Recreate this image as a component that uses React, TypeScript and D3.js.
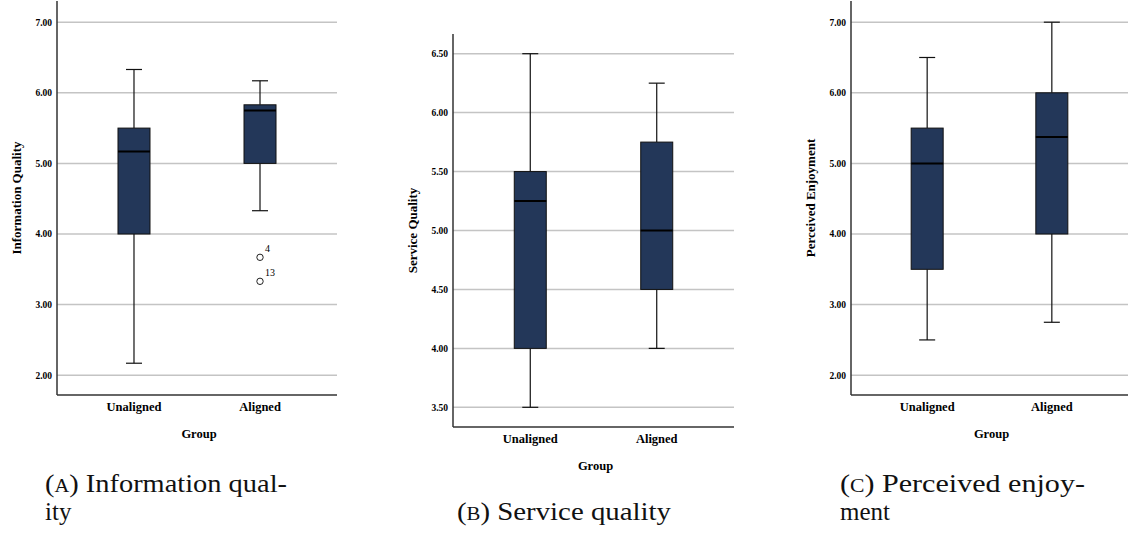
import React, { useEffect, useRef } from "react";
import * as d3 from "d3";

// groups on the x axis
const groups = ["Unaligned", "Aligned"];

// box stats per group: [min, q1, median, q3, max]
const infoQualityStats = [
  [2.17, 4.0, 5.17, 5.5, 6.33],
  [4.33, 5.0, 5.75, 5.83, 6.17],
];
const infoQualityOutliers = [
  { group: "Aligned", value: 3.67, id: "4" },
  { group: "Aligned", value: 3.33, id: "13" },
];
const serviceQualityStats = [
  [3.5, 4.0, 5.25, 5.5, 6.5],
  [4.0, 4.5, 5.0, 5.75, 6.25],
];
const enjoymentStats = [
  [2.5, 3.5, 5.0, 5.5, 6.5],
  [2.75, 4.0, 5.375, 6.0, 7.0],
];

const infoTicks = [2, 3, 4, 5, 6, 7];
const serviceTicks = [3.5, 4, 4.5, 5, 5.5, 6, 6.5];
const enjoymentTicks = [2, 3, 4, 5, 6, 7];

const BOX_FILL = "#233759";
const SERIF = "Liberation Serif, DejaVu Serif, serif";

type Panel = {
  yLabel: string;
  stats: number[][];
  outliers: { group: string; value: number; id: string }[];
  ticks: number[];
  domain: [number, number];
  left: number;
  right: number;
  top: number;
  bottom: number;
};

const panels: Panel[] = [
  { yLabel: "Information Quality", stats: infoQualityStats, outliers: infoQualityOutliers, ticks: infoTicks,
    domain: [1.72, 7.3], left: 57, right: 337, top: 1, bottom: 395 },
  { yLabel: "Service Quality", stats: serviceQualityStats, outliers: [], ticks: serviceTicks,
    domain: [3.333, 6.667], left: 453, right: 734, top: 34, bottom: 427 },
  { yLabel: "Perceived Enjoyment", stats: enjoymentStats, outliers: [], ticks: enjoymentTicks,
    domain: [1.72, 7.3], left: 851, right: 1128, top: 1, bottom: 395 },
];

const captions = [
  { letter: "A", lines: ["Information qual-", "ity"], x: 45, y: 492, len: 242 },
  { letter: "B", lines: ["Service quality"], x: 457, y: 520, len: 214 },
  { letter: "C", lines: ["Perceived enjoy-", "ment"], x: 840, y: 492, len: 245 },
];

export default function App() {
  const ref = useRef<SVGSVGElement>(null);

  useEffect(() => {
    const svg = d3.select(ref.current);
    svg.selectAll("*").remove();
    svg.style("font-family", SERIF);

    panels.forEach((p) => {
      const g = svg.append("g");
      const x = d3.scalePoint().domain(groups).range([p.left, p.right]).padding(0.611);
      const y = d3.scaleLinear().domain(p.domain).range([p.bottom, p.top]);
      const boxW = 32;
      const capW = 16;

      // gridlines
      g.selectAll(".grid").data(p.ticks).enter().append("line")
        .attr("x1", p.left).attr("x2", p.right)
        .attr("y1", (d) => y(d)).attr("y2", (d) => y(d))
        .attr("stroke", "#c4c4c4").attr("stroke-width", 1.5);

      // tick labels
      g.selectAll(".tick").data(p.ticks).enter().append("text")
        .attr("x", p.left - 5).attr("y", (d) => y(d)).attr("dy", "0.35em")
        .attr("text-anchor", "end").style("font-weight", "bold")
        .style("font-size", "9.5px").text((d) => d3.format(".2f")(d));

      // boxes
      p.stats.forEach((s, i) => {
        const cx = x(groups[i]) as number;
        const [mn, q1, med, q3, mx] = s;
        g.append("line").attr("x1", cx).attr("x2", cx).attr("y1", y(mx)).attr("y2", y(q3))
          .attr("stroke", "#111").attr("stroke-width", 1.2);
        g.append("line").attr("x1", cx).attr("x2", cx).attr("y1", y(q1)).attr("y2", y(mn))
          .attr("stroke", "#111").attr("stroke-width", 1.2);
        [mn, mx].forEach((v) => {
          g.append("line").attr("x1", cx - capW / 2).attr("x2", cx + capW / 2)
            .attr("y1", y(v)).attr("y2", y(v)).attr("stroke", "#111").attr("stroke-width", 1.2);
        });
        g.append("rect").attr("x", cx - boxW / 2).attr("width", boxW)
          .attr("y", y(q3)).attr("height", y(q1) - y(q3))
          .attr("fill", BOX_FILL).attr("stroke", "#111").attr("stroke-width", 1);
        g.append("line").attr("x1", cx - boxW / 2).attr("x2", cx + boxW / 2)
          .attr("y1", y(med)).attr("y2", y(med)).attr("stroke", "#000").attr("stroke-width", 2);
      });

      // outliers
      p.outliers.forEach((o) => {
        const cx = x(o.group) as number;
        g.append("circle").attr("cx", cx).attr("cy", y(o.value)).attr("r", 3.2)
          .attr("fill", "white").attr("stroke", "#222").attr("stroke-width", 1);
        g.append("text").attr("x", cx + 5).attr("y", y(o.value) - 5)
          .style("font-size", "10px").text(o.id);
      });

      // axes lines
      g.append("line").attr("x1", p.left).attr("x2", p.left).attr("y1", p.top).attr("y2", p.bottom)
        .attr("stroke", "#333").attr("stroke-width", 1.5);
      g.append("line").attr("x1", p.left).attr("x2", p.right).attr("y1", p.bottom).attr("y2", p.bottom)
        .attr("stroke", "#333").attr("stroke-width", 1.5);

      // category labels
      groups.forEach((grp) => {
        g.append("text").attr("x", x(grp) as number).attr("y", p.bottom + 16)
          .attr("text-anchor", "middle").style("font-weight", "bold")
          .style("font-size", "12.5px").text(grp);
      });
      g.append("text").attr("x", (p.left + p.right) / 2 + 2).attr("y", p.bottom + 43)
        .attr("text-anchor", "middle").style("font-weight", "bold")
        .style("font-size", "12.5px").text("Group");

      // y label
      const ly = (p.top + p.bottom) / 2;
      g.append("text").attr("transform", `translate(${p.left - 36},${ly}) rotate(-90)`)
        .attr("text-anchor", "middle").style("font-weight", "bold")
        .style("font-size", "13px").text(p.yLabel);
    });

    // captions
    captions.forEach((c) => {
      const t = svg.append("text").attr("x", c.x).attr("y", c.y)
        .style("font-size", "25px").attr("fill", "#111")
        .attr("textLength", c.len).attr("lengthAdjust", "spacingAndGlyphs");
      t.append("tspan").text("(");
      t.append("tspan").style("font-size", "18px").text(c.letter);
      t.append("tspan").text(") " + c.lines[0]);
      c.lines.slice(1).forEach((l, i) => {
        svg.append("text").attr("x", c.x).attr("y", c.y + 28 * (i + 1))
          .style("font-size", "25px").attr("fill", "#111").text(l);
      });
    });
  }, []);

  return (
    <svg ref={ref} width={1128} height={534}
      style={{ position: "absolute", left: 0, top: 0, background: "white" }} />
  );
}
